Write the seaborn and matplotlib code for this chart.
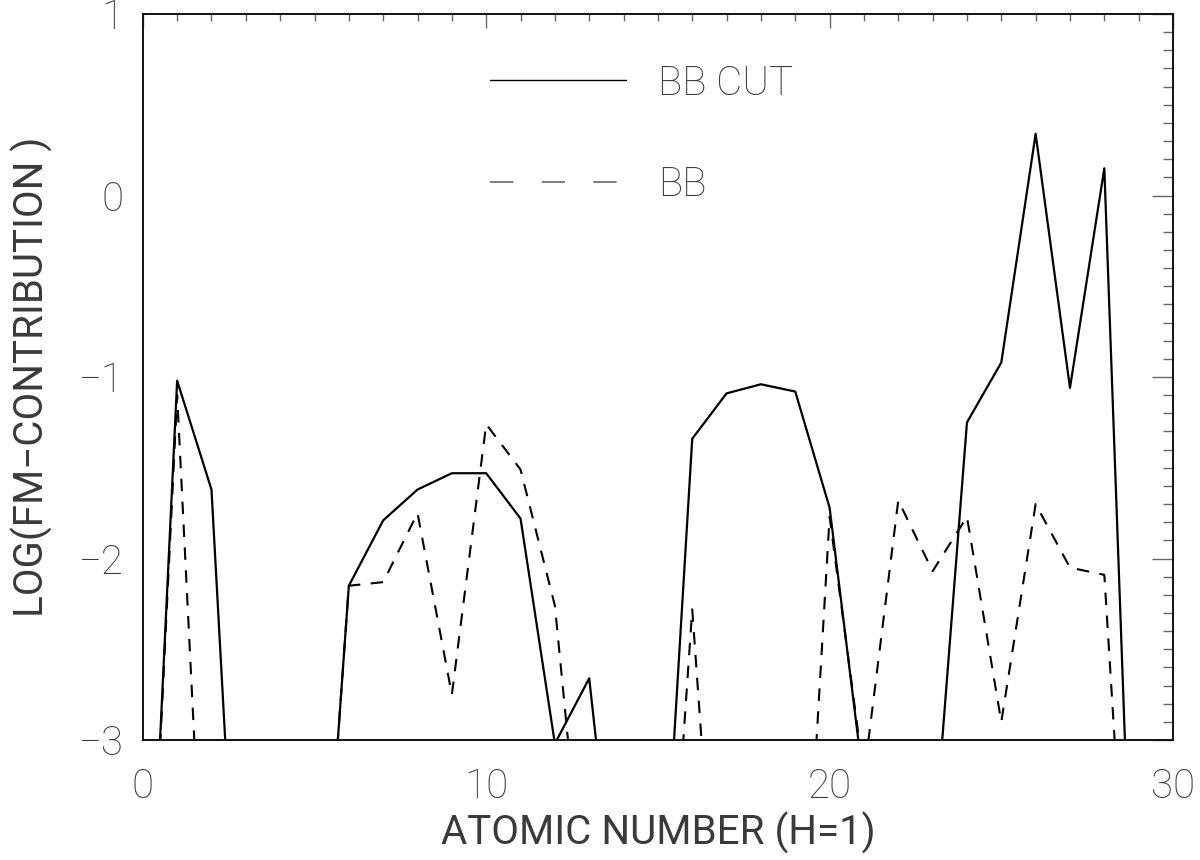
import numpy as np
import pandas as pd
import seaborn as sns
import matplotlib
matplotlib.use("Agg")
import matplotlib.pyplot as plt
from matplotlib.lines import Line2D
from matplotlib.ticker import MultipleLocator

# values (atomic number 0..30)
atomic_number = list(range(31))
bb_cut = [-5.0, -1.02, -1.62, -5.07, -5.0, -4.8, -2.15, -1.79, -1.62, -1.53,
          -1.53, -1.78, -3.02, -2.66, -4.38, -4.47, -1.34, -1.09, -1.04, -1.08,
          -1.72, -3.25, -4.0, -3.68, -1.25, -0.92, 0.34, -1.06, 0.15, -5.1, -5.0]
bb = [-5.0, -1.1, -4.9, -5.0, -5.0, -4.8, -2.15, -2.13, -1.75, -2.75,
      -1.26, -1.51, -2.26, -4.2, -5.0, -5.05, -2.28, -4.95, -5.0, -5.0,
      -1.77, -3.2, -1.68, -2.07, -1.77, -2.9, -1.7, -2.05, -2.09, -5.12, -5.0]
series_names = ["BB CUT", "BB"]

sns.set_style("white")
plt.rcParams["font.family"] = ["Roboto", "DejaVu Sans"]
plt.rcParams["font.weight"] = "light"
plt.rcParams["axes.unicode_minus"] = True

text_col = "#3a3a3a"
fs = 29

df = pd.DataFrame({"z": atomic_number, "cut": bb_cut, "bb": bb})

fig = plt.figure(figsize=(12, 8.6), dpi=100)
ax = fig.add_axes([0.119, 0.1395, 0.8585, 0.8442])

sns.lineplot(data=df, x="z", y="cut", ax=ax, color="black", lw=1.6)
sns.lineplot(data=df, x="z", y="bb", ax=ax, color="black", lw=1.5,
             linestyle=(0, (6, 5)))

ax.set_xlim(0, 30)
ax.set_ylim(-3, 1)
ax.xaxis.set_major_locator(MultipleLocator(10))
ax.xaxis.set_minor_locator(MultipleLocator(1))
ax.yaxis.set_major_locator(MultipleLocator(1))
ax.yaxis.set_minor_locator(MultipleLocator(0.1))

ax.tick_params(axis="both", which="both", direction="in", top=True, right=True,
               colors="#666666", labelcolor=text_col, labelsize=fs, width=1.0)
ax.tick_params(axis="x", which="major", length=10, pad=20)
ax.tick_params(axis="x", which="minor", length=5)
ax.tick_params(axis="y", which="major", length=15, pad=14)
ax.tick_params(axis="y", which="minor", length=7)

for sp in ax.spines.values():
    sp.set_color("#111111")
    sp.set_linewidth(1.4)

ax.set_xlabel("ATOMIC NUMBER (H=1)", fontsize=fs, color=text_col, labelpad=4)
ax.set_ylabel("LOG(FM\u2212CONTRIBUTION )", fontsize=fs, color=text_col, labelpad=18)

handles = [Line2D([], [], color="black", lw=1.0),
           Line2D([], [], color="#666666", lw=1.2, linestyle=(0, (14, 17)))]
leg = ax.legend(handles, series_names, loc="upper left",
                bbox_to_anchor=(0.302, 0.981), frameon=False, fontsize=fs,
                handlelength=3.37, handletextpad=0.8, labelspacing=1.56,
                labelcolor=text_col)

fig.savefig("out.png", dpi=100)
